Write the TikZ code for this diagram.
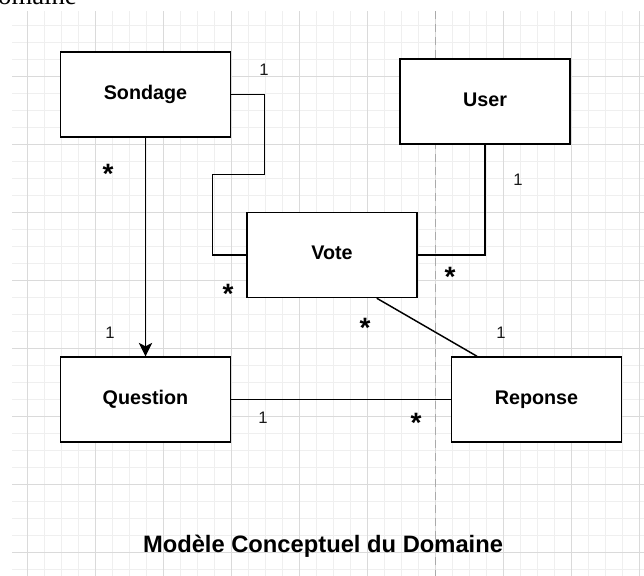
\documentclass[tikz,border=0pt]{standalone}
\usepackage{fontspec}
\setmainfont{Liberation Sans}
\newfontfamily\pageserif{Liberation Serif}
\usetikzlibrary{arrows.meta,calc}

\begin{document}
\begin{tikzpicture}[x=0.75pt,y=0.75pt,yscale=-1,xscale=1,
	minorgrid/.style={color={rgb, 255:red, 239; green, 239; blue, 239 },line width=0.6pt},
	majorgrid/.style={color={rgb, 255:red, 218; green, 218; blue, 218 },line width=0.7pt},
	entity/.style={draw=black,fill=white,line width=1.1pt,minimum width=127.5pt,minimum height=63.75pt,inner sep=0pt,text height=0.72em,text depth=0pt,font=\fontsize{14.8}{16}\selectfont\bfseries},
	mult/.style={inner sep=0pt,color={rgb, 255:red, 25; green, 25; blue, 25 },font=\fontsize{12.5}{14}\selectfont},
	starlabel/.style={inner sep=0pt,anchor=north,font=\fontsize{21}{22}\selectfont\bfseries},
	link/.style={line width=1.1pt}]
	%uncomment if require: \path (0,576); %set diagram left start at 0, and has height of 576
	\useasboundingbox (0,0) rectangle (644,576);
	
	% grid
	\begin{scope}
		\clip (12,11) rectangle (644,576);
		\foreach \gx in {10,27,...,644} \draw[minorgrid] (\gx,11) -- (\gx,576);
		\foreach \gy in {8,25,...,576} \draw[minorgrid] (12,\gy) -- (644,\gy);
		\foreach \gx in {27,95,...,644} \draw[majorgrid] (\gx,11) -- (\gx,576);
		\foreach \gy in {8,76,...,576} \draw[majorgrid] (12,\gy) -- (644,\gy);
	\end{scope}
	\draw [color={rgb, 255:red, 170; green, 170; blue, 170 },line width=0.7pt,dash pattern=on 6pt off 3.75pt] (435,11) -- (435,576) ;
	
	\node [anchor=base east,inner sep=0pt,font=\pageserif\fontsize{20}{22}\selectfont] (scrap) at (77,4) {Domaine};
	
	% entities
	\node [entity] (sondage) at (145.5,94.5) {Sondage};
	\node [entity] (user) at (485,101.5) {User};
	\node [entity] (vote) at (332,255) {Vote};
	\node [entity] (question) at (145.5,399.5) {Question};
	\node [entity] (reponse) at (536.5,399.5) {Reponse};
	
	% associations
	\draw [link,-{Stealth[length=10pt,width=10pt,inset=2.5pt]}] (sondage.south) -- (question.north) ;
	\draw [link] (sondage.east) -| ++(33,80) -| ($(vote.west)+(-34,0)$) -- (vote.west) ;
	\draw [link] (user.south) |- (vote.east) ;
	\draw [link] (vote.-44) -- (reponse.144) ;
	\draw [link] (question.east) -- (reponse.west) ;
	
	% multiplicities
	\node [mult] (m1) at (264,70) {1};
	\node [starlabel] (s1) at (108,164) {*};
	\node [mult] (m2) at (518,180) {1};
	\node [starlabel] (s2) at (228,284) {*};
	\node [starlabel] (s3) at (450,267) {*};
	\node [starlabel] (s4) at (365,318) {*};
	\node [mult] (m3) at (110,333) {1};
	\node [mult] (m4) at (501,333) {1};
	\node [mult] (m5) at (263,418) {1};
	\node [starlabel] (s5) at (416,413) {*};
	
	\node [anchor=base,font=\fontsize{17.8}{20}\selectfont\bfseries] (title) at (323,552) {Modèle Conceptuel du Domaine};
	
\end{tikzpicture}
\end{document}
